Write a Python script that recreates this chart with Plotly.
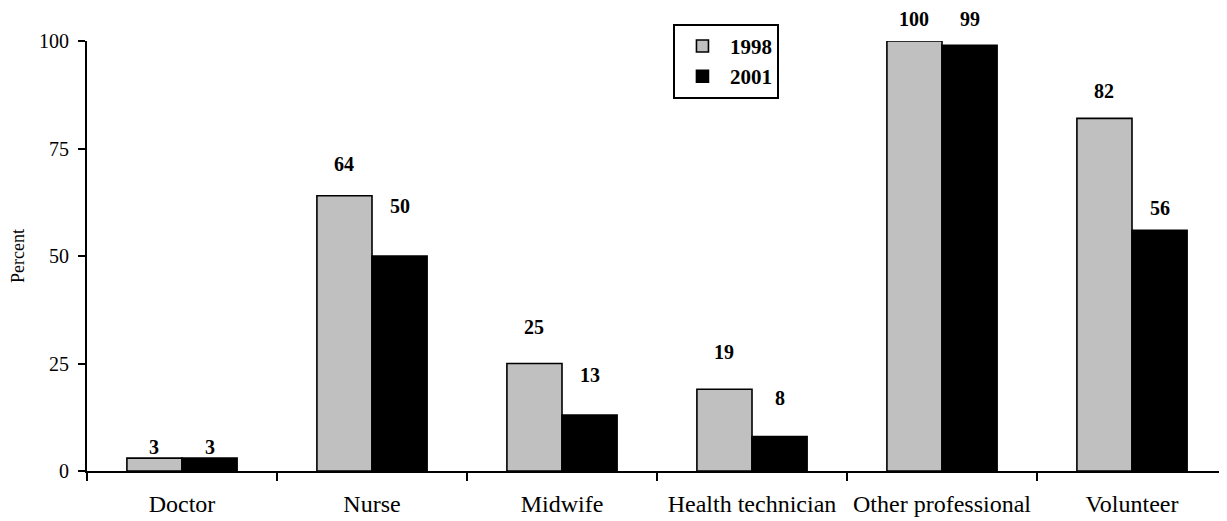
import plotly.graph_objects as go

categories = ["Doctor", "Nurse", "Midwife", "Health technician", "Other professional", "Volunteer"]
values_1998 = [3, 64, 25, 19, 100, 82]
values_2001 = [3, 50, 13, 8, 99, 56]
y_ticks = [0, 25, 50, 75, 100]

# label lift above each bar top, in pixels (labels sit at uneven heights in the source)
lift_1998 = [11, 32, 37, 37, 22, 27]
lift_2001 = [11, 50, 40, 39, 26, 22]

FONT = "Liberation Serif"
BAR_GAP = 0.42
half = (1 - BAR_GAP) / 4  # centre offset of each bar within its group

# the page body adds an 8px margin, so the figure is sized/margined to compensate
PAGE_PAD = 8

fig = go.Figure()
fig.add_trace(go.Bar(
    x=categories, y=values_1998, name="1998",
    marker=dict(color="#c0c0c0", line=dict(color="black", width=1.6)),
))
fig.add_trace(go.Bar(
    x=categories, y=values_2001, name="2001",
    marker=dict(color="black", line=dict(color="black", width=1.6)),
))

# value labels above bars
for i, cat in enumerate(categories):
    for vals, lifts, off in ((values_1998, lift_1998, -half), (values_2001, lift_2001, half)):
        fig.add_annotation(
            x=i + off, y=vals[i], xref="x", yref="y",
            text=f"<b>{vals[i]}</b>", showarrow=False,
            yanchor="middle", yshift=lifts[i],
            font=dict(family=FONT, size=20, color="black"),
        )

fig.update_layout(
    barmode="group",
    bargap=BAR_GAP,
    bargroupgap=0,
    width=1227 - PAGE_PAD, height=521 - PAGE_PAD,
    margin=dict(l=87 - PAGE_PAD, r=0, t=41 - PAGE_PAD, b=50, pad=0),
    paper_bgcolor="white",
    plot_bgcolor="white",
    font=dict(family=FONT, color="black"),
    legend=dict(
        x=0.514, y=1.04, xanchor="left", yanchor="top",
        bordercolor="black", borderwidth=2, bgcolor="white",
        font=dict(family=FONT, size=21, color="black", weight="bold"),
        tracegroupgap=0, itemwidth=45,
    ),
    xaxis=dict(
        type="category",
        range=[-0.5, len(categories) - 0.5],
        showline=True, linecolor="black", linewidth=2,
        ticks="outside", tickson="boundaries", ticklen=8, tickwidth=2, tickcolor="black",
        tickfont=dict(family=FONT, size=24, color="black"),
        ticklabelstandoff=10,
        showgrid=False, zeroline=False,
    ),
    yaxis=dict(
        range=[0, 100],
        tickvals=y_ticks,
        showline=True, linecolor="black", linewidth=2,
        ticks="outside", ticklen=7, tickwidth=2, tickcolor="black",
        tickfont=dict(family=FONT, size=20, color="black"),
        ticklabelstandoff=5,
        title=dict(text="Percent", font=dict(family=FONT, size=18, color="black"), standoff=10),
        showgrid=False, zeroline=False,
        automargin=False,
    ),
)

fig.write_html("out.html")
